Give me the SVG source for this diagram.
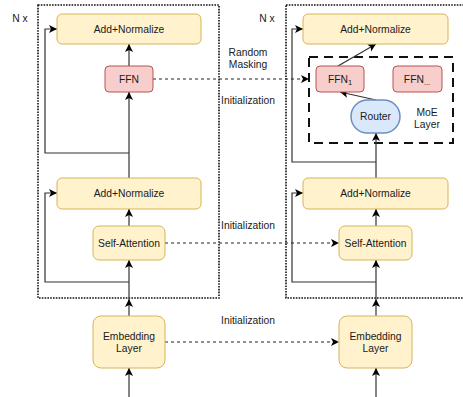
<svg xmlns="http://www.w3.org/2000/svg" width="463" height="397" viewBox="0 0 463 397">
<style>
text{font-family:"Liberation Sans",Arial,sans-serif;font-size:10.3px;fill:#1a1a1a;text-anchor:middle;dominant-baseline:central}
.y{fill:#fff2cc;stroke:#d6b656;stroke-width:1}
.r{fill:#f8cecc;stroke:#b85450;stroke-width:1}
.b{fill:#dae8fc;stroke:#6c8ebf;stroke-width:1.5}
.ln{fill:none;stroke:#333;stroke-width:1.2}
.ar{fill:none;stroke:#333;stroke-width:1.2;marker-end:url(#ah)}
.dash{fill:none;stroke:#222;stroke-width:1;stroke-dasharray:3 3;marker-end:url(#ah)}
.dot{fill:none;stroke:#111;stroke-width:1.6;stroke-dasharray:1.6 1.2}
.moe{fill:none;stroke:#111;stroke-width:2;stroke-dasharray:9 6}
</style>
<defs>
<marker id="ah" markerUnits="userSpaceOnUse" markerWidth="10" markerHeight="10" viewBox="0 0 10 10" refX="9" refY="5" orient="auto">
<path d="M1,1 L9,5 L1,9 L3,5 z" fill="#000"/>
</marker>
</defs>

<g id="containers">
<rect class="dot" x="38" y="5" width="181" height="293"/>
<rect class="dot" x="286" y="5" width="184" height="293"/>
<rect id="moe-box" class="moe" x="309" y="57" width="144" height="86"/>
</g>

<g id="connectors">
<line class="ar" x1="129" y1="397" x2="129" y2="368"/>
<line class="ar" x1="129" y1="316" x2="129" y2="299"/>
<line class="ar" x1="129" y1="299" x2="129" y2="260"/>
<line class="ar" x1="129" y1="226" x2="129" y2="209"/>
<line class="ar" x1="129" y1="178" x2="129" y2="92"/>
<line class="ar" x1="129" y1="66" x2="129" y2="44"/>
<polyline class="ar" points="129,282 45,282 45,193 57,193"/>
<polyline class="ar" points="129,153 45,153 45,29 57,29"/>

<line class="ar" x1="376" y1="397" x2="376" y2="368"/>
<line class="ar" x1="376" y1="316" x2="376" y2="299"/>
<line class="ar" x1="376" y1="299" x2="376" y2="260"/>
<line class="ar" x1="376" y1="226" x2="376" y2="209"/>
<line class="ar" x1="376" y1="178" x2="376" y2="133"/>
<line class="ar" x1="376" y1="100" x2="340" y2="92"/>
<line class="ar" x1="338" y1="66" x2="376" y2="44"/>
<polyline class="ar" points="376,282 292,282 292,193 303,193"/>
<polyline class="ar" points="376,162 292,162 292,29 303,29"/>

<line class="dash" x1="153" y1="79" x2="309" y2="79"/>
<line class="dash" x1="165" y1="243" x2="339" y2="243"/>
<line class="dash" x1="165" y1="342" x2="339" y2="342"/>
</g>

<g id="labels">
<text x="20" y="18">N x</text>
<text x="267" y="18">N x</text>
<text x="248" y="52">Random</text>
<text x="248" y="64">Masking</text>
<text x="248" y="100">Initialization</text>
<text x="248" y="225">Initialization</text>
<text x="248" y="320">Initialization</text>
<text x="427" y="112">MoE</text>
<text x="427" y="124">Layer</text>
</g>

<g id="l-addnorm-top"><rect class="y" x="57" y="14" width="144" height="30" rx="5"/><text x="129" y="29">Add+Normalize</text></g>
<g id="l-ffn"><rect class="r" x="105" y="66" width="48" height="26" rx="4"/><text x="129" y="79">FFN</text></g>
<g id="l-addnorm-bot"><rect class="y" x="57" y="178" width="144" height="31" rx="5"/><text x="129" y="193.5">Add+Normalize</text></g>
<g id="l-selfatt"><rect class="y" x="93" y="226" width="72" height="34" rx="6"/><text x="129" y="243">Self-Attention</text></g>
<g id="l-embed"><rect class="y" x="93" y="316" width="72" height="52" rx="8"/><text x="129" y="336">Embedding</text><text x="129" y="348">Layer</text></g>

<g id="r-addnorm-top"><rect class="y" x="303" y="14" width="145" height="30" rx="5"/><text x="375.5" y="29">Add+Normalize</text></g>
<g id="r-ffn1"><rect class="r" x="316" y="66" width="48" height="26" rx="4"/><text x="340" y="79">FFN<tspan font-size="7.5" dy="3">1</tspan></text></g>
<g id="r-ffnn"><rect class="r" x="393" y="66" width="49" height="26" rx="4"/><text x="417" y="79">FFN<tspan font-size="7.5" dy="3">...</tspan></text></g>
<g id="r-router"><rect class="b" x="351" y="100" width="49" height="33" rx="16.5"/><text x="375.5" y="116.5">Router</text></g>
<g id="r-addnorm-bot"><rect class="y" x="303" y="178" width="145" height="31" rx="5"/><text x="375.5" y="193.5">Add+Normalize</text></g>
<g id="r-selfatt"><rect class="y" x="339" y="226" width="73" height="34" rx="6"/><text x="375.5" y="243">Self-Attention</text></g>
<g id="r-embed"><rect class="y" x="339" y="316" width="73" height="52" rx="8"/><text x="375.5" y="336">Embedding</text><text x="375.5" y="348">Layer</text></g>
</svg>
